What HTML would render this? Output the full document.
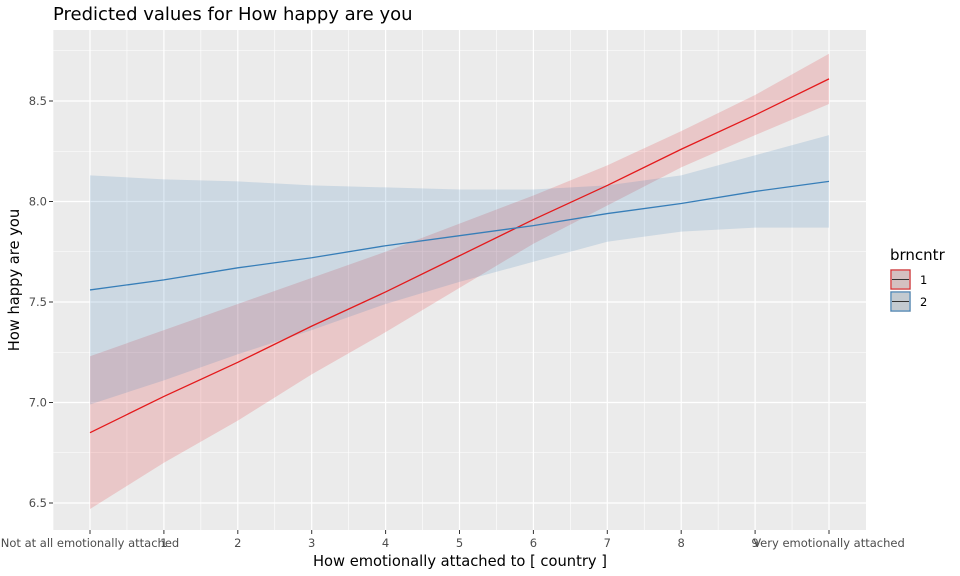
<!DOCTYPE html>
<html><head><meta charset="utf-8"><style>
body{margin:0;background:#fff;}
svg{display:block;font-family:"DejaVu Sans","Liberation Sans",sans-serif;}
</style></head><body>
<svg id="chart" width="960" height="576"></svg>
<script>
const xValues=[0,1,2,3,4,5,6,7,8,9,10];
const redFit=[6.85,7.03,7.20,7.38,7.55,7.73,7.91,8.08,8.26,8.43,8.61];
const redHalfWidth=[0.38,0.33,0.29,0.24,0.20,0.16,0.12,0.10,0.09,0.10,0.125];
const blueFit=[7.56,7.61,7.67,7.72,7.78,7.83,7.88,7.94,7.99,8.05,8.10];
const blueHalfWidth=[0.57,0.50,0.43,0.36,0.29,0.23,0.18,0.14,0.14,0.18,0.23];
const xTickLabels=["Not at all emotionally attached","1","2","3","4","5","6","7","8","9","Very emotionally attached"];
const yTicks=[6.5,7.0,7.5,8.0,8.5];

const NS="http://www.w3.org/2000/svg";
const svg=document.getElementById('chart');
const P={l:53,r:866,t:30,b:530};
const sx=v=>90+(829-90)*v/10;
const sy=v=>503-(v-6.5)*(503-101)/2;
function mk(tag,attrs,parent){const e=document.createElementNS(NS,tag);for(const k in attrs)e.setAttribute(k,attrs[k]);(parent||svg).appendChild(e);return e;}

const title=mk('text',{x:53,y:20,'font-size':18,fill:'#000'});title.textContent='Predicted values for How happy are you';



const panel=mk('rect',{x:P.l,y:P.t,width:P.r-P.l,height:P.b-P.t,fill:'#EBEBEB'});



for(let i=0;i<yTicks.length+1;i++){const v=6.25+i*0.5;if(sy(v)>P.t&&sy(v)<P.b){const g=mk('line',{x1:P.l,x2:P.r,y1:sy(v),y2:sy(v),stroke:'#fff','stroke-width':0.6});

}}
for(let i=0;i<=10;i++){const v=i-0.5;const px=sx(v);if(px>P.l&&px<P.r){const g=mk('line',{x1:px,x2:px,y1:P.t,y2:P.b,stroke:'#fff','stroke-width':0.6});

}}
yTicks.forEach(v=>{const g=mk('line',{x1:P.l,x2:P.r,y1:sy(v),y2:sy(v),stroke:'#fff','stroke-width':1.2});


const t=mk('text',{x:47,y:sy(v)+4,'font-size':11.5,fill:'#4D4D4D','text-anchor':'end'});t.textContent=v.toFixed(1);


mk('line',{x1:49,x2:53,y1:sy(v),y2:sy(v),stroke:'#333'});});
xValues.forEach((v,i)=>{const g=mk('line',{x1:sx(v),x2:sx(v),y1:P.t,y2:P.b,stroke:'#fff','stroke-width':1.2});


mk('line',{x1:sx(v),x2:sx(v),y1:P.b,y2:P.b+4,stroke:'#333'});
const t=mk('text',{x:sx(v),y:547,'font-size':11.5,fill:'#4D4D4D','text-anchor':'middle'});t.textContent=xTickLabels[i];

});

function ribbon(fit,hw,color,name){
 let d='';xValues.forEach((x,i)=>{d+=(i?'L':'M')+sx(x)+','+sy(fit[i]+hw[i]);});
 for(let i=xValues.length-1;i>=0;i--)d+='L'+sx(xValues[i])+','+sy(fit[i]-hw[i]);
 const r=mk('path',{d:d+'Z',fill:color,'fill-opacity':0.17});
 
 
}
function line(fit,color,name){
 let d='';xValues.forEach((x,i)=>{d+=(i?'L':'M')+sx(x)+','+sy(fit[i]);});
 const l=mk('path',{d:d,fill:'none',stroke:color,'stroke-width':1.3});
 
 
}
ribbon(redFit,redHalfWidth,'#E41A1C','series-1');
ribbon(blueFit,blueHalfWidth,'#377EB8','series-2');
line(redFit,'#E41A1C','series-1');
line(blueFit,'#377EB8','series-2');

const xt=mk('text',{x:460,y:566,'font-size':14.7,fill:'#000','text-anchor':'middle'});xt.textContent='How emotionally attached to [ country ]';


const yt=mk('text',{x:0,y:0,'font-size':14.7,fill:'#000','text-anchor':'middle',transform:'translate(19,280) rotate(-90)'});yt.textContent='How happy are you';



const lt=mk('text',{x:890,y:260,'font-size':15,fill:'#000'});lt.textContent='brncntr';


[['1','#E41A1C',269],['2','#377EB8',291]].forEach(([lab,c,y])=>{
 const g=mk('g',{});
 
 
 mk('rect',{x:890,y:y,width:21,height:21,fill:'#D3D3D3'},g);
 mk('rect',{x:891,y:y+1,width:19,height:19,fill:c,'fill-opacity':0.1,stroke:c,'stroke-width':1},g);
 mk('line',{x1:892,x2:909,y1:y+10.5,y2:y+10.5,stroke:'#333','stroke-width':1},g);
 const t=mk('text',{x:920,y:y+15,'font-size':11.5,fill:'#000'},g);t.textContent=lab;
});
</script>
</body></html>
